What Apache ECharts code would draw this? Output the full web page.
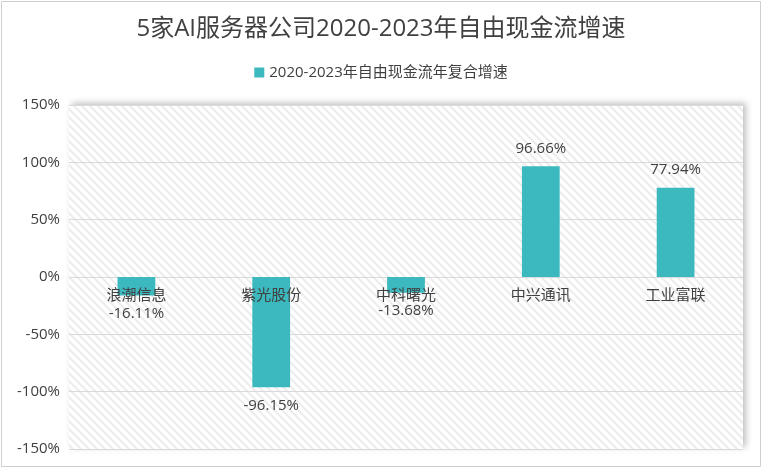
<!DOCTYPE html>
<html><head><meta charset="utf-8">
<script src="https://cdn.jsdelivr.net/npm/echarts@6/dist/echarts.min.js"></script>
<style>html,body{margin:0;padding:0;background:#fff}#c{width:762px;height:469px}</style>
</head><body><div id="c"></div>
<script>
const categories = ['浪潮信息','紫光股份','中科曙光','中兴通讯','工业富联'];
const growth = [-16.11, -96.15, -13.68, 96.66, 77.94];
const seriesName = '2020-2023年自由现金流年复合增速';
const titleText = '5家AI服务器公司2020-2023年自由现金流增速';

const pc = document.createElement('canvas');
pc.width = 8; pc.height = 8;
const g = pc.getContext('2d');
g.fillStyle = '#ffffff'; g.fillRect(0,0,8,8);
g.strokeStyle = '#ececec'; g.lineWidth = 2;
g.beginPath();
g.moveTo(-1,-1); g.lineTo(9,9);
g.moveTo(-5,3); g.lineTo(5,13);
g.moveTo(3,-5); g.lineTo(13,5);
g.stroke();

const chart = echarts.init(document.getElementById('c'));
const font = '"Open Sans","Noto Sans CJK SC",sans-serif';
chart.setOption({
  animation:false,
  textStyle:{fontFamily:font},
  title:{text:titleText,left:'center',top:12,textStyle:{fontSize:24,fontWeight:'normal',color:'#404040',fontFamily:font}},
  legend:{top:60,left:'center',itemWidth:10,itemHeight:10,itemGap:6,textStyle:{fontSize:15,color:'#404040'},data:[{name:seriesName,icon:'rect'}]},
  graphic:[{type:'rect',shape:{x:1.5,y:1.5,width:759,height:465},style:{fill:'none',stroke:'#cfcfcf',lineWidth:1},silent:true}],
  grid:{left:69,right:19,top:105,bottom:20,show:true,borderWidth:0,outerBoundsMode:'none',containLabel:false,
    backgroundColor:{image:pc,repeat:'repeat'},
    shadowColor:'rgba(0,0,0,0.25)',shadowBlur:6,shadowOffsetX:3,shadowOffsetY:-2},
  xAxis:{type:'category',data:categories,offset:-172,z:5,
    axisLine:{show:false,onZero:false},
    axisTick:{show:false},
    axisLabel:{fontSize:15,color:'#404040',margin:11,interval:0}},
  yAxis:{type:'value',min:-150,max:150,interval:50,
    axisLine:{show:false},axisTick:{show:false},
    axisLabel:{formatter:'{value}%',fontSize:15,color:'#404040',margin:9},
    splitLine:{lineStyle:{color:'#d9d9d9'}}},
  series:[{name:seriesName,type:'bar',barWidth:'28%',z:2,
    data:growth.map(v=>v<0?{value:v,label:{position:'bottom',distance:11}}:v),
    itemStyle:{color:'#3cb8bf'},
    label:{show:true,fontSize:15,color:'#404040',
      formatter:p=>p.value.toFixed(2)+'%',
      position:'top',distance:10}}]
});
</script></body></html>
